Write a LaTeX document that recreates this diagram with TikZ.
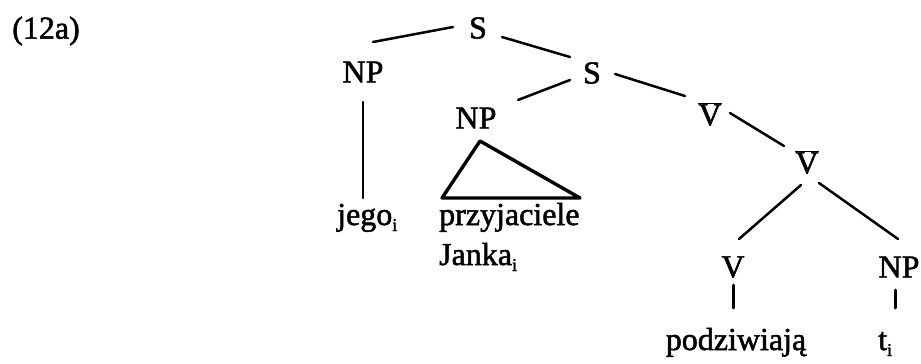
\documentclass[tikz,border=0pt]{standalone}
\usepackage{fontspec}
\setmainfont{Liberation Serif}[FakeBold=1.6]
\newcommand\sbi{\raisebox{-6pt}{\fontsize{18}{20}\selectfont i}}
\newcommand\vbarlbl{\ensuremath{\overline{\hbox{V}}}}
\begin{document}
\begin{tikzpicture}[x=1pt,y=-1pt,
  lbl/.style={inner sep=0pt,font=\fontsize{32}{36}\selectfont},
  edge/.style={line width=2.5pt,line cap=round},
  stub/.style={line width=3pt,line cap=round},
  tri/.style={line width=3.4pt,line join=round}]
\useasboundingbox (0,0) rectangle (921,364);
% nodes
\node[lbl] (ex) at (46,31) {(12a)};
\node[lbl] (S1) at (478,28) {S};
\node[lbl] (NP1) at (363,72) {NP};
\node[lbl] (S2) at (592,73) {S};
\node[lbl] (NP2) at (476,118) {NP};
\node[lbl] (VB1) at (710,114) {\vbarlbl};
\node[lbl] (VB2) at (807,162) {\vbarlbl};
\node[lbl,anchor=base west] (jego) at (337,225) {jego\sbi};
\node[lbl,anchor=base west] (przy) at (439,225) {przyjaciele};
\node[lbl,anchor=base west] (janka) at (439,265) {Janka\sbi};
\node[lbl] (V) at (733,267) {V};
\node[lbl] (NP3) at (899,267) {NP};
\node[lbl,anchor=base] (podz) at (736,350) {podziwiają};
\node[lbl,anchor=base west] (t) at (878,350) {t\sbi};
% connectors
\draw[edge] ([shift={(-25,-1)}]S1.center) -- ([shift={(10,-30)}]NP1.center);
\draw[edge] ([shift={(24,9)}]S1.center) -- ([shift={(-22,-16)}]S2.center);
\draw[edge] ([shift={(-22,7)}]S2.center) -- ([shift={(42,-18)}]NP2.center);
\draw[edge] ([shift={(23,1)}]S2.center) -- ([shift={(-25,-18)}]VB1.center);
\draw[edge] ([shift={(20,-1)}]VB1.center) -- ([shift={(-23,-16)}]VB2.center);
\draw[edge] ([shift={(-6,23)}]VB2.center) -- ([shift={(6,-28)}]V.center);
\draw[edge] ([shift={(12,21)}]VB2.center) -- ([shift={(-1,-28)}]NP3.center);
\draw[edge] ([shift={(0,30)}]NP1.center) -- ([shift={(26,-27)}]jego.base west);
\draw[tri] ([shift={(4,23)}]NP2.center) -- ([shift={(3,-27)}]przy.base west) -- ([shift={(141,-27)}]przy.base west) -- cycle;
\draw[stub] ([shift={(0,18)}]V.center) -- ([shift={(-3,-42)}]podz.base);
\draw[stub] ([shift={(-4,23)}]NP3.center) -- ([shift={(17,-42)}]t.base west);
\end{tikzpicture}
\end{document}
